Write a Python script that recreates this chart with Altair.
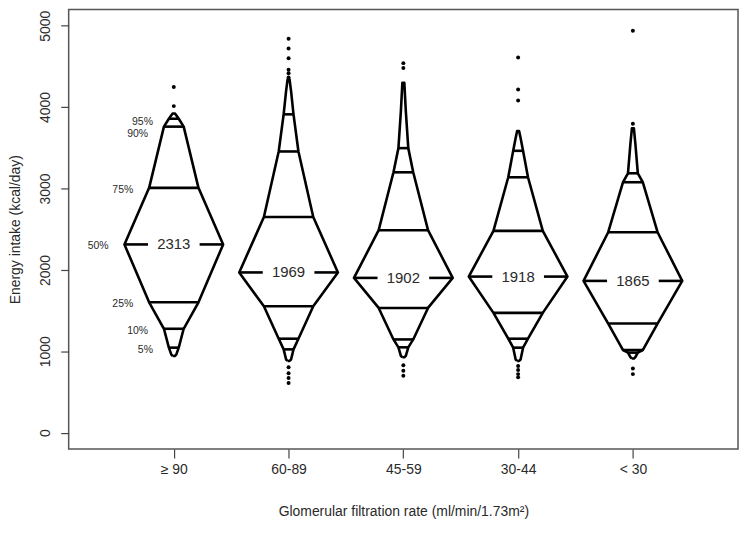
import json
import altair as alt
import pandas as pd

# ---------------- data ----------------
groups = ["≥ 90", "60-89", "45-59", "30-44", "< 30"]
percentiles = [1, 2.5, 5, 10, 25, 50, 75, 90, 95, 97.5, 99]
quantiles = {
    "≥ 90":  [943, 960, 1045, 1277, 1602, 2313, 3008, 3760, 3857, 3900, 3922],
    "60-89": [882, 900, 1024, 1155, 1553, 1969, 2650, 3455, 3911, 4200, 4341],
    "45-59": [927, 945, 1049, 1146, 1533, 1902, 2488, 3199, 3496, 3950, 4297],
    "30-44": [882, 900, 1045, 1155, 1472, 1918, 2480, 3138, 3463, 3620, 3707],
    "< 30":  [911, 930, 984, 1016, 1341, 1865, 2463, 3077, 3187, 3550, 3740],
}
outliers = {
    "≥ 90":  [4248, 4012],
    "60-89": [4840, 4720, 4600, 4460, 4415, 4365, 805, 732, 671, 610],
    "45-59": [4540, 4480, 830, 760, 700],
    "30-44": [4610, 4215, 4081, 820, 770, 720, 680],
    "< 30":  [4939, 3796, 790, 720],
}
line_pcts = [5, 10, 25, 75, 90, 95]
pct_labels = ["95%", "90%", "75%", "50%", "25%", "10%", "5%"]
pct_label_pcts = [95, 90, 75, 50, 25, 10, 5]

WIDTH_K = 0.86      # half-width per unit of min(p, 1-p)
GAP = 0.225         # half gap around the median label

# ---------------- build tables ----------------
outline_rows, rule_rows, med_rows, out_rows = [], [], [], []
for gi, g in enumerate(groups):
    c = gi + 1
    qs = quantiles[g]
    w = [WIDTH_K * min(p, 100 - p) / 100 for p in percentiles]
    order = 0
    for p, q, ww in zip(percentiles, qs, w):
        outline_rows.append({"g": g, "o": order, "x": c - ww, "y": q}); order += 1
    for p, q, ww in reversed(list(zip(percentiles, qs, w))):
        outline_rows.append({"g": g, "o": order, "x": c + ww, "y": q}); order += 1
    outline_rows.append({"g": g, "o": order, "x": c - w[0], "y": qs[0]})
    for p, q, ww in zip(percentiles, qs, w):
        if p in line_pcts:
            rule_rows.append({"g": g, "x": c - ww, "x2": c + ww, "y": q})
        if p == 50:
            rule_rows.append({"g": g, "x": c - ww, "x2": c - GAP, "y": q})
            rule_rows.append({"g": g, "x": c + GAP, "x2": c + ww, "y": q})
            med_rows.append({"g": g, "x": c, "y": q, "t": str(q)})
    for v in outliers[g]:
        out_rows.append({"g": g, "x": c, "y": v})

lab_rows = []
q1 = quantiles[groups[0]]
for lab, p in zip(pct_labels, pct_label_pcts):
    q = q1[percentiles.index(p)]
    lab_rows.append({"x": 1 - WIDTH_K * min(p, 100 - p) / 100, "y": q, "t": lab, "p": p})

outline = pd.DataFrame(outline_rows)
rules = pd.DataFrame(rule_rows)
meds = pd.DataFrame(med_rows)
outs = pd.DataFrame(out_rows)
labs = pd.DataFrame(lab_rows)

FONT = "Liberation Sans"
TXT = "#2a2a2a"
xs = alt.Scale(domain=[0.084, 5.916], nice=False, zero=False)
ys = alt.Scale(domain=[-200, 5200], nice=False, zero=False)

label_expr = json.dumps(groups) + "[datum.value - 1]"

X = alt.X("x:Q", scale=xs, axis=alt.Axis(
    values=[1, 2, 3, 4, 5], labelExpr=label_expr, grid=False, domain=False,
    title="Glomerular filtration rate (ml/min/1.73m²)",
    tickSize=9, tickColor="#444", tickWidth=1.2, labelPadding=5,
    labelFontSize=14, labelColor=TXT, labelFont=FONT,
    titleFontSize=14, titleColor=TXT, titleFont=FONT, titleFontWeight="normal",
    titlePadding=28))
Y = alt.Y("y:Q", scale=ys, axis=alt.Axis(
    values=[0, 1000, 2000, 3000, 4000, 5000], format="d", grid=False, domain=False,
    title="Energy intake (kcal/day)", labelAngle=270,
    tickSize=8, tickColor="#444", tickWidth=1.2, labelPadding=8,
    labelFontSize=14, labelColor=TXT, labelFont=FONT,
    titleFontSize=14, titleColor=TXT, titleFont=FONT, titleFontWeight="normal",
    titlePadding=16))

outline_layer = alt.Chart(outline).mark_line(color="black", strokeWidth=2.6, strokeJoin="round").encode(
    x=X, y=Y, order="o:Q", detail="g:N")
rule_layer = alt.Chart(rules).mark_rule(color="black", strokeWidth=2.6).encode(
    x="x:Q", x2="x2:Q", y="y:Q")
med_layer = alt.Chart(meds).mark_text(fontSize=15, font=FONT, color=TXT, baseline="middle").encode(
    x="x:Q", y="y:Q", text="t:N")
out_layer = alt.Chart(outs).mark_circle(color="black", size=16, opacity=1).encode(
    x="x:Q", y="y:Q")

def pct_layer(cond, dy):
    return alt.Chart(labs).mark_text(fontSize=10.5, font=FONT, color=TXT, align="right",
                                     baseline="middle", dx=-16, dy=dy).transform_filter(
        cond).encode(x="x:Q", y="y:Q", text="t:N")

chart = alt.layer(outline_layer, rule_layer, med_layer, out_layer,
                  pct_layer("datum.p < 90", 2), pct_layer("datum.p == 95", 3),
                  pct_layer("datum.p == 90", 7)).properties(
    width=673, height=442,
    autosize=alt.AutoSizeParams(type="none"),
    padding={"left": 61, "top": 0, "right": 5, "bottom": 77},
    background="white",
).configure_view(stroke="#555", strokeWidth=1.5)

chart.save("out.html", embed_options={"renderer": "svg", "actions": False})
